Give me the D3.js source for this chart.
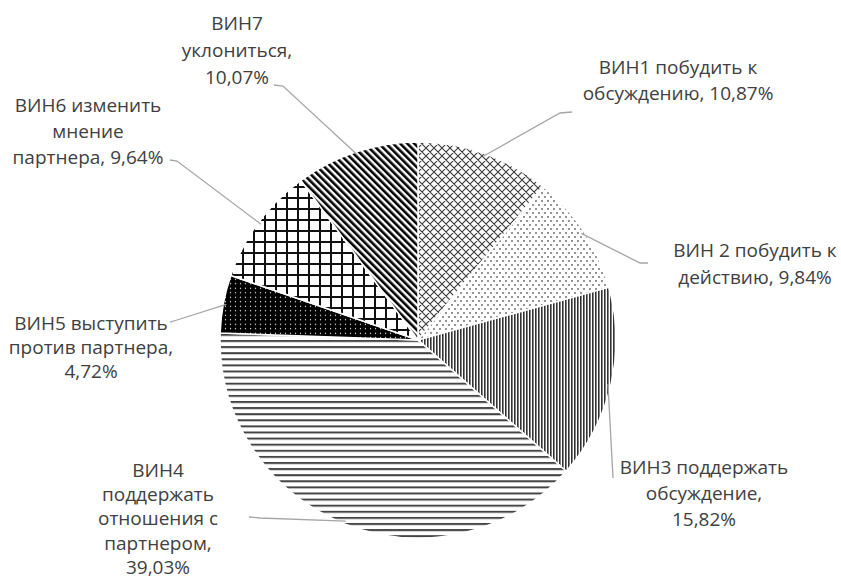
<!DOCTYPE html>
<html>
<head>
<meta charset="utf-8">
<script src="https://cdn.jsdelivr.net/npm/d3@7"></script>
<style>
  body { margin: 0; background: #fff; }
  text { font-family: "Open Sans", sans-serif; fill: #404040; }
</style>
</head>
<body>
<svg id="chart" width="841" height="579"></svg>
<script>
const width = 841;
const height = 579;

// data
const codes = ['ВИН1', 'ВИН2', 'ВИН3', 'ВИН4', 'ВИН5', 'ВИН6', 'ВИН7'];
const values = [10.87, 9.84, 15.82, 39.03, 4.72, 9.64, 10.07];
// label text, {v} is replaced by the value
const labelLines = [
  ['ВИН1 побудить к', 'обсуждению, {v}'],
  ['ВИН 2 побудить к', 'действию, {v}'],
  ['ВИН3 поддержать', 'обсуждение,', '{v}'],
  ['ВИН4', 'поддержать', 'отношения с', 'партнером,', '{v}'],
  ['ВИН5 выступить', 'против партнера,', '{v}'],
  ['ВИН6 изменить', 'мнение', 'партнера, {v}'],
  ['ВИН7', 'уклониться,', '{v}']
];

// layout of labels: centre x, first line y, line step, leader bend and end
const labelPos = [
  {x: 678, y: 67, dy: 26, bend: [560, 113], end: [572, 112]},
  {x: 755, y: 250, dy: 27, bend: [640, 263], end: [648, 263]},
  {x: 704, y: 467, dy: 26, bend: [613, 478], end: [613, 478]},
  {x: 158, y: 470, dy: 24.3, bend: [260, 518], end: [249, 517]},
  {x: 91, y: 323, dy: 24, bend: [177, 320], end: [170, 322]},
  {x: 88, y: 105, dy: 26, bend: [177, 161], end: [170, 160]},
  {x: 237, y: 23, dy: 27, bend: [283, 86], end: [274, 85]}
];

const cx = 418, cy = 340, radius = 198;
const fmt = v => d3.format('.2f')(v).replace('.', ',') + '%';

const svg = d3.select('#chart');
const defs = svg.append('defs');

// fill patterns, one per slice
function pat(id, w, h, rot) {
  let p = defs.append('pattern')
    .attr('id', id)
    .attr('patternUnits', 'userSpaceOnUse')
    .attr('width', w)
    .attr('height', h);
  if (rot) p.attr('patternTransform', `rotate(${rot})`);
  p.append('rect').attr('width', w).attr('height', h).attr('fill', '#fff');
  return p;
}

let p1 = pat('p1', 8, 8);
p1.append('path').attr('d', 'M0,0L8,8M8,0L0,8M-1,7L1,9M7,-1L9,1M-1,1L1,-1M7,9L9,7')
  .attr('stroke', '#3a3a3a').attr('stroke-width', 1.1);

let p2 = pat('p2', 6, 8);
p2.append('circle').attr('cx', 1).attr('cy', 1).attr('r', 0.8).attr('fill', '#111');
p2.append('circle').attr('cx', 4).attr('cy', 5).attr('r', 0.8).attr('fill', '#111');

let p3 = pat('p3', 3, 3);
p3.append('rect').attr('x', 0).attr('width', 1.6).attr('height', 3).attr('fill', '#333');

let p4 = pat('p4', 6, 6.1);
p4.append('rect').attr('y', 0).attr('width', 6).attr('height', 2).attr('fill', '#444');

let p5 = pat('p5', 5, 4.5);
p5.select('rect').attr('fill', '#000');
p5.append('circle').attr('cx', 2.5).attr('cy', 2.25).attr('r', 0.7).attr('fill', '#fff');

let p6 = pat('p6', 11, 11);
p6.append('path').attr('d', 'M1,0V11M0,1H11')
  .attr('stroke', '#111').attr('stroke-width', 2);

let p7 = pat('p7', 5, 5, -45);
p7.append('rect').attr('width', 2.6).attr('height', 5).attr('fill', '#000');

const fills = ['p1', 'p2', 'p3', 'p4', 'p5', 'p6', 'p7'];

const pie = d3.pie().sort(null).value(d => d);
const arcs = pie(values);
const arc = d3.arc().innerRadius(0).outerRadius(radius);

const g = svg.append('g').attr('transform', `translate(${cx},${cy})`);

g.selectAll('path.slice')
  .data(arcs)
  .enter()
  .append('path')
  .attr('class', 'slice')
  .attr('d', arc)
  .attr('fill', (d, i) => `url(#${fills[i]})`)
  .attr('stroke', '#fff')
  .attr('stroke-width', 1.5);

// leader lines from the slice edge to the label
arcs.forEach((a, i) => {
  let mid = (a.startAngle + a.endAngle) / 2;
  let sx = cx + Math.sin(mid) * (radius - 3);
  let sy = cy - Math.cos(mid) * (radius - 3);
  let lp = labelPos[i];
  svg.append('path')
    .attr('d', `M${sx},${sy}L${lp.bend[0]},${lp.bend[1]}L${lp.end[0]},${lp.end[1]}`)
    .attr('fill', 'none')
    .attr('stroke', '#a6a6a6')
    .attr('stroke-width', 1.3);
});

// labels
labelLines.forEach((lines, i) => {
  let lp = labelPos[i];
  let t = svg.append('text')
    .attr('text-anchor', 'middle')
    .attr('font-size', 19);
  lines.forEach((ln, j) => {
    t.append('tspan')
      .attr('x', lp.x)
      .attr('y', lp.y + j * lp.dy)
      .attr('dy', '0.35em')
      .text(ln.replace('{v}', fmt(values[i])));
  });
});
</script>
</body>
</html>
